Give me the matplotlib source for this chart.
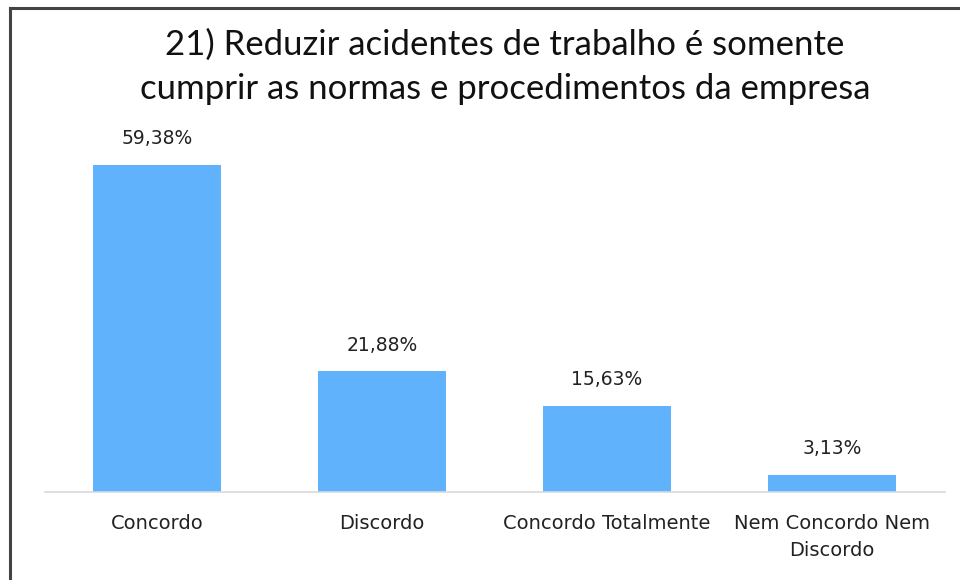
import matplotlib
matplotlib.use("Agg")
import matplotlib.pyplot as plt
from matplotlib.lines import Line2D

categories = ["Concordo", "Discordo", "Concordo Totalmente", "Nem Concordo Nem\nDiscordo"]
values = [59.38, 21.88, 15.63, 3.13]
value_labels = ["59,38%", "21,88%", "15,63%", "3,13%"]
title = "21) Reduzir acidentes de trabalho é somente\ncumprir as normas e procedimentos da empresa"

plt.rcParams['font.family'] = ['Lato', 'DejaVu Sans']

fig = plt.figure(figsize=(9.6, 5.8), dpi=100)
ax = fig.add_axes([44.5/960, 88/580, 900/960, (65*5.51)/580])
x = range(len(categories))
bars = ax.bar(x, values, width=0.57, color="#61B2FC", zorder=2)
ax.set_xlim(-0.5, 3.5)
ax.set_ylim(0, 65)
for xi, v, lab in zip(x, values, value_labels):
    ax.annotate(lab, (xi, v), xytext=(0, 12), textcoords="offset points",
                ha="center", va="bottom", fontsize=13.5, color="#222222",
                family=["DejaVu Sans"])
ax.set_xticks(list(x))
ax.set_xticklabels(categories, fontsize=14, color="#222222", linespacing=1.5,
                   family=["DejaVu Sans"])
ax.tick_params(axis="x", length=0, pad=16)
ax.set_yticks([])
for s in ["top", "right", "left"]:
    ax.spines[s].set_visible(False)
ax.spines["bottom"].set_color("#D9D9D9")
ax.spines["bottom"].set_linewidth(1.2)

fig.text(0.526, 1 - 67/580, title, ha="center", va="center", fontsize=25,
         color="#111111", linespacing=1.45)

# outer frame (top and left edges visible)
fig.add_artist(Line2D([10/960, 10/960], [0, 1 - 8/580], transform=fig.transFigure,
                      color="#444444", lw=2.2))
fig.add_artist(Line2D([10/960, 1], [1 - 8/580, 1 - 8/580], transform=fig.transFigure,
                      color="#444444", lw=2.2))

fig.savefig("out.png", dpi=100)
